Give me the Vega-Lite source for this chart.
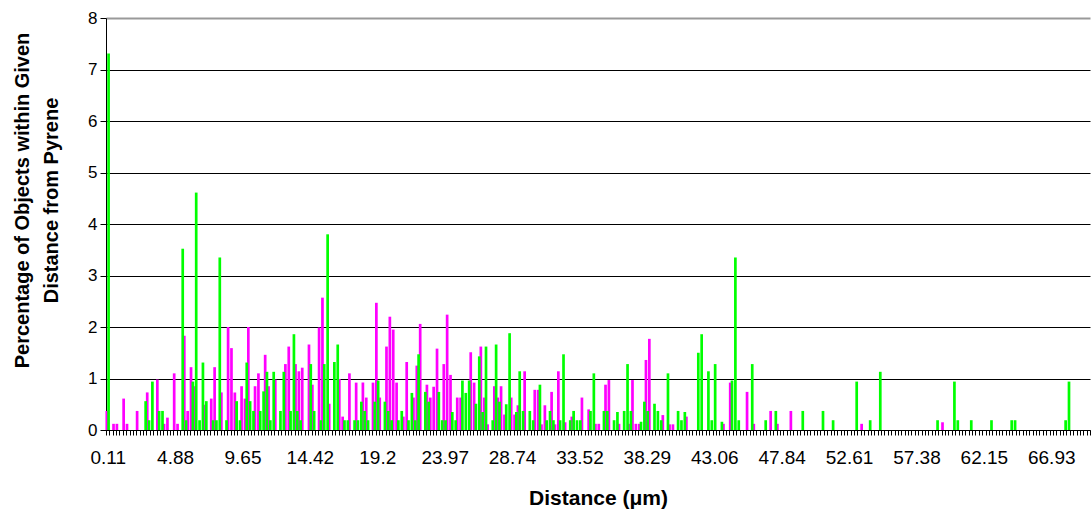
{
  "$schema": "https://vega.github.io/schema/vega-lite/v6.json",
  "width": 984,
  "height": 412,
  "autosize": "none",
  "padding": {"left": 106, "top": 18, "right": 1, "bottom": 88},
  "background": "white",
  "config": {
    "view": {"stroke": null},
    "font": "Liberation Sans"
  },
  "data": {"values": [
    {"dist":0.11,"s1":0.37,"s2":7.31},{"dist":0.34,"s1":0,"s2":0},{"dist":0.58,"s1":0.12,"s2":0},{"dist":0.82,"s1":0.12,"s2":0},{"dist":1.06,"s1":0,"s2":0},
    {"dist":1.3,"s1":0.61,"s2":0},{"dist":1.54,"s1":0.12,"s2":0},{"dist":1.78,"s1":0,"s2":0},{"dist":2.01,"s1":0,"s2":0},{"dist":2.25,"s1":0.37,"s2":0},
    {"dist":2.49,"s1":0,"s2":0},{"dist":2.73,"s1":0,"s2":0.56},{"dist":2.97,"s1":0.73,"s2":0.19},{"dist":3.21,"s1":0,"s2":0.94},{"dist":3.45,"s1":0,"s2":0},
    {"dist":3.69,"s1":0.98,"s2":0.37},{"dist":3.92,"s1":0,"s2":0.37},{"dist":4.16,"s1":0.12,"s2":0},{"dist":4.4,"s1":0.24,"s2":0},{"dist":4.64,"s1":0,"s2":0},
    {"dist":4.88,"s1":1.1,"s2":0},{"dist":5.12,"s1":0.12,"s2":0},{"dist":5.36,"s1":0,"s2":3.52},{"dist":5.59,"s1":1.83,"s2":0.19},{"dist":5.83,"s1":0.37,"s2":0},
    {"dist":6.07,"s1":1.22,"s2":0.94},{"dist":6.31,"s1":0.85,"s2":4.61},{"dist":6.55,"s1":0,"s2":0.19},{"dist":6.79,"s1":0,"s2":1.31},{"dist":7.03,"s1":0.49,"s2":0.56},
    {"dist":7.27,"s1":0,"s2":0},{"dist":7.5,"s1":0.61,"s2":0.19},{"dist":7.74,"s1":1.22,"s2":0.19},{"dist":7.98,"s1":0,"s2":3.35},{"dist":8.22,"s1":0.73,"s2":0},
    {"dist":8.46,"s1":0,"s2":0.19},{"dist":8.7,"s1":2.0,"s2":0},{"dist":8.94,"s1":1.59,"s2":0},{"dist":9.17,"s1":0.73,"s2":0.56},{"dist":9.41,"s1":0,"s2":0.19},
    {"dist":9.65,"s1":0.85,"s2":0},{"dist":9.89,"s1":0.61,"s2":1.31},{"dist":10.13,"s1":2.0,"s2":0.56},{"dist":10.37,"s1":0,"s2":0.37},{"dist":10.61,"s1":0.85,"s2":0},
    {"dist":10.84,"s1":1.1,"s2":0.37},{"dist":11.08,"s1":0,"s2":0.75},{"dist":11.32,"s1":1.46,"s2":1.13},{"dist":11.56,"s1":0.85,"s2":0.19},{"dist":11.8,"s1":0,"s2":1.13},
    {"dist":12.04,"s1":0.98,"s2":0},{"dist":12.28,"s1":0,"s2":0.37},{"dist":12.52,"s1":0,"s2":1.13},{"dist":12.75,"s1":1.28,"s2":0},{"dist":12.99,"s1":1.62,"s2":0.37},
    {"dist":13.23,"s1":0,"s2":1.86},{"dist":13.47,"s1":1.28,"s2":0.37},{"dist":13.71,"s1":1.14,"s2":0.19},{"dist":13.95,"s1":1.21,"s2":0},{"dist":14.19,"s1":0,"s2":0},
    {"dist":14.42,"s1":1.66,"s2":1.28},{"dist":14.66,"s1":0.88,"s2":0.37},{"dist":14.9,"s1":0,"s2":0},{"dist":15.14,"s1":1.99,"s2":0.19},{"dist":15.38,"s1":2.57,"s2":1.28},
    {"dist":15.62,"s1":0,"s2":3.8},{"dist":15.86,"s1":0.51,"s2":0},{"dist":16.1,"s1":0,"s2":1.32},{"dist":16.33,"s1":0,"s2":1.66},{"dist":16.57,"s1":0.99,"s2":0},
    {"dist":16.81,"s1":0.26,"s2":0.19},{"dist":17.05,"s1":0,"s2":0.19},{"dist":17.29,"s1":1.1,"s2":0},{"dist":17.53,"s1":0,"s2":0.19},{"dist":17.77,"s1":0.92,"s2":0.19},
    {"dist":18.0,"s1":0,"s2":0.55},{"dist":18.24,"s1":0.92,"s2":0.37},{"dist":18.48,"s1":0.63,"s2":0.19},{"dist":18.72,"s1":0,"s2":0},{"dist":18.96,"s1":0.92,"s2":0.55},
    {"dist":19.2,"s1":2.47,"s2":0.96},{"dist":19.44,"s1":0.63,"s2":0},{"dist":19.67,"s1":0,"s2":0.55},{"dist":19.91,"s1":1.62,"s2":0.37},{"dist":20.15,"s1":2.2,"s2":0.19},
    {"dist":20.39,"s1":1.95,"s2":0},{"dist":20.63,"s1":0.92,"s2":0.19},{"dist":20.87,"s1":0,"s2":0.37},{"dist":21.11,"s1":0.26,"s2":0},{"dist":21.35,"s1":1.32,"s2":0.19},
    {"dist":21.58,"s1":0,"s2":0.72},{"dist":21.82,"s1":0.63,"s2":0.19},{"dist":22.06,"s1":1.25,"s2":1.47},{"dist":22.3,"s1":2.06,"s2":0},{"dist":22.54,"s1":0,"s2":0.74},
    {"dist":22.78,"s1":0.88,"s2":0.55},{"dist":23.02,"s1":0.63,"s2":0},{"dist":23.25,"s1":0.84,"s2":0},{"dist":23.49,"s1":1.58,"s2":0.74},{"dist":23.73,"s1":0,"s2":0.19},
    {"dist":23.97,"s1":1.28,"s2":0.19},{"dist":24.21,"s1":2.24,"s2":0},{"dist":24.45,"s1":1.07,"s2":0.35},{"dist":24.69,"s1":0,"s2":0.19},{"dist":24.93,"s1":0.63,"s2":0},
    {"dist":25.16,"s1":0.63,"s2":0.96},{"dist":25.4,"s1":0,"s2":0.72},{"dist":25.64,"s1":0,"s2":0.96},{"dist":25.88,"s1":1.51,"s2":0},{"dist":26.12,"s1":0.92,"s2":0.51},
    {"dist":26.36,"s1":0,"s2":1.43},{"dist":26.6,"s1":1.62,"s2":0.35},{"dist":26.83,"s1":0.63,"s2":1.62},{"dist":27.07,"s1":0.11,"s2":0},{"dist":27.31,"s1":0,"s2":0.19},
    {"dist":27.55,"s1":0.85,"s2":1.66},{"dist":27.79,"s1":0.63,"s2":0.55},{"dist":28.03,"s1":0.85,"s2":0},{"dist":28.27,"s1":0.3,"s2":0.5},{"dist":28.5,"s1":0,"s2":1.88},
    {"dist":28.74,"s1":0.63,"s2":0},{"dist":28.98,"s1":0.3,"s2":0.35},{"dist":29.22,"s1":0.48,"s2":1.14},{"dist":29.46,"s1":0,"s2":0.37},{"dist":29.7,"s1":1.14,"s2":0},
    {"dist":29.94,"s1":0,"s2":0.37},{"dist":30.18,"s1":0,"s2":0.19},{"dist":30.41,"s1":0.78,"s2":0},{"dist":30.65,"s1":0.78,"s2":0.88},{"dist":30.89,"s1":0.11,"s2":0},
    {"dist":31.13,"s1":0.48,"s2":0.19},{"dist":31.37,"s1":0,"s2":0.37},{"dist":31.61,"s1":0.74,"s2":0.19},{"dist":31.85,"s1":0.11,"s2":0},{"dist":32.08,"s1":1.14,"s2":0.19},
    {"dist":32.32,"s1":0,"s2":1.47},{"dist":32.56,"s1":0.15,"s2":0},{"dist":32.8,"s1":0,"s2":0.19},{"dist":33.04,"s1":0.26,"s2":0.37},{"dist":33.28,"s1":0,"s2":0.19},
    {"dist":33.52,"s1":0,"s2":0.19},{"dist":33.76,"s1":0.63,"s2":0},{"dist":33.99,"s1":0,"s2":0},{"dist":34.23,"s1":0.4,"s2":0.37},{"dist":34.47,"s1":0,"s2":1.1},
    {"dist":34.71,"s1":0.12,"s2":0},{"dist":34.95,"s1":0.12,"s2":0},{"dist":35.19,"s1":0,"s2":0.37},{"dist":35.43,"s1":0.88,"s2":0.37},{"dist":35.66,"s1":0.97,"s2":0},
    {"dist":35.9,"s1":0,"s2":0.19},{"dist":36.14,"s1":0,"s2":0.35},{"dist":36.38,"s1":0.12,"s2":0},{"dist":36.62,"s1":0,"s2":0.37},{"dist":36.86,"s1":0,"s2":1.28},
    {"dist":37.1,"s1":0.12,"s2":0.37},{"dist":37.33,"s1":0.97,"s2":0},{"dist":37.57,"s1":0.12,"s2":0},{"dist":37.81,"s1":0.12,"s2":0.16},{"dist":38.05,"s1":0,"s2":0.55},
    {"dist":38.29,"s1":1.36,"s2":0.37},{"dist":38.53,"s1":1.77,"s2":0},{"dist":38.77,"s1":0,"s2":0.51},{"dist":39.01,"s1":0,"s2":0.37},{"dist":39.24,"s1":0,"s2":0.19},
    {"dist":39.48,"s1":0.29,"s2":0},{"dist":39.72,"s1":0,"s2":1.1},{"dist":39.96,"s1":0.11,"s2":0},{"dist":40.2,"s1":0.11,"s2":0},{"dist":40.44,"s1":0,"s2":0.37},
    {"dist":40.68,"s1":0,"s2":0.19},{"dist":40.91,"s1":0,"s2":0.35},{"dist":41.15,"s1":0.26,"s2":0},{"dist":41.39,"s1":0,"s2":0},{"dist":41.63,"s1":0,"s2":0},
    {"dist":41.87,"s1":0,"s2":1.5},{"dist":42.11,"s1":0,"s2":1.86},{"dist":42.35,"s1":0,"s2":0},{"dist":42.59,"s1":0,"s2":1.14},{"dist":42.82,"s1":0,"s2":0.19},
    {"dist":43.06,"s1":0,"s2":1.28},{"dist":43.3,"s1":0,"s2":0},{"dist":43.54,"s1":0,"s2":0.16},{"dist":43.78,"s1":0.12,"s2":0},{"dist":44.02,"s1":0,"s2":0},
    {"dist":44.26,"s1":0.92,"s2":0.96},{"dist":44.49,"s1":0,"s2":3.35},{"dist":44.73,"s1":0,"s2":0.19},{"dist":44.97,"s1":0,"s2":0},{"dist":45.21,"s1":0,"s2":0},
    {"dist":45.45,"s1":0.74,"s2":0},{"dist":45.69,"s1":0,"s2":1.28},{"dist":45.93,"s1":0.12,"s2":0},{"dist":46.16,"s1":0,"s2":0},{"dist":46.4,"s1":0,"s2":0},
    {"dist":46.64,"s1":0,"s2":0.19},{"dist":46.88,"s1":0,"s2":0},{"dist":47.12,"s1":0.37,"s2":0},{"dist":47.36,"s1":0,"s2":0.37},{"dist":47.6,"s1":0.12,"s2":0},
    {"dist":47.84,"s1":0,"s2":0},{"dist":48.07,"s1":0,"s2":0},{"dist":48.31,"s1":0,"s2":0},{"dist":48.55,"s1":0.37,"s2":0},{"dist":48.79,"s1":0,"s2":0},
    {"dist":49.03,"s1":0,"s2":0},{"dist":49.27,"s1":0,"s2":0.37},{"dist":49.51,"s1":0,"s2":0},{"dist":49.74,"s1":0,"s2":0},{"dist":49.98,"s1":0,"s2":0},
    {"dist":50.22,"s1":0,"s2":0},{"dist":50.46,"s1":0,"s2":0},{"dist":50.7,"s1":0,"s2":0.37},{"dist":50.94,"s1":0,"s2":0},{"dist":51.18,"s1":0,"s2":0},
    {"dist":51.42,"s1":0,"s2":0.19},{"dist":51.65,"s1":0,"s2":0},{"dist":51.89,"s1":0,"s2":0},{"dist":52.13,"s1":0,"s2":0},{"dist":52.37,"s1":0,"s2":0},
    {"dist":52.61,"s1":0,"s2":0},{"dist":52.85,"s1":0,"s2":0},{"dist":53.09,"s1":0,"s2":0.94},{"dist":53.32,"s1":0,"s2":0},{"dist":53.56,"s1":0.12,"s2":0},
    {"dist":53.8,"s1":0,"s2":0},{"dist":54.04,"s1":0,"s2":0.19},{"dist":54.28,"s1":0,"s2":0},{"dist":54.52,"s1":0,"s2":0},{"dist":54.76,"s1":0,"s2":1.13},
    {"dist":55.0,"s1":0,"s2":0},{"dist":55.23,"s1":0,"s2":0},{"dist":55.47,"s1":0,"s2":0},{"dist":55.71,"s1":0,"s2":0},{"dist":55.95,"s1":0,"s2":0},
    {"dist":56.19,"s1":0,"s2":0},{"dist":56.43,"s1":0,"s2":0},{"dist":56.67,"s1":0,"s2":0},{"dist":56.9,"s1":0,"s2":0},{"dist":57.14,"s1":0,"s2":0},
    {"dist":57.38,"s1":0,"s2":0},{"dist":57.62,"s1":0,"s2":0},{"dist":57.86,"s1":0,"s2":0},{"dist":58.1,"s1":0,"s2":0},{"dist":58.34,"s1":0,"s2":0},
    {"dist":58.57,"s1":0,"s2":0},{"dist":58.81,"s1":0,"s2":0.19},{"dist":59.05,"s1":0,"s2":0},{"dist":59.29,"s1":0.15,"s2":0},{"dist":59.53,"s1":0,"s2":0},
    {"dist":59.77,"s1":0,"s2":0},{"dist":60.01,"s1":0,"s2":0.94},{"dist":60.25,"s1":0,"s2":0.19},{"dist":60.48,"s1":0,"s2":0},{"dist":60.72,"s1":0,"s2":0},
    {"dist":60.96,"s1":0,"s2":0},{"dist":61.2,"s1":0,"s2":0.19},{"dist":61.44,"s1":0,"s2":0},{"dist":61.68,"s1":0,"s2":0},{"dist":61.92,"s1":0,"s2":0},
    {"dist":62.15,"s1":0,"s2":0},{"dist":62.39,"s1":0,"s2":0},{"dist":62.63,"s1":0,"s2":0.19},{"dist":62.87,"s1":0,"s2":0},{"dist":63.11,"s1":0,"s2":0},
    {"dist":63.35,"s1":0,"s2":0},{"dist":63.59,"s1":0,"s2":0},{"dist":63.83,"s1":0,"s2":0},{"dist":64.06,"s1":0,"s2":0.19},{"dist":64.3,"s1":0,"s2":0.19},
    {"dist":64.54,"s1":0,"s2":0},{"dist":64.78,"s1":0,"s2":0},{"dist":65.02,"s1":0,"s2":0},{"dist":65.26,"s1":0,"s2":0},{"dist":65.5,"s1":0,"s2":0},
    {"dist":65.73,"s1":0,"s2":0},{"dist":65.97,"s1":0,"s2":0},{"dist":66.21,"s1":0,"s2":0},{"dist":66.45,"s1":0,"s2":0},{"dist":66.69,"s1":0,"s2":0},
    {"dist":66.93,"s1":0,"s2":0},{"dist":67.17,"s1":0,"s2":0},{"dist":67.4,"s1":0,"s2":0},{"dist":67.64,"s1":0,"s2":0},{"dist":67.88,"s1":0,"s2":0.19},
    {"dist":68.12,"s1":0,"s2":0.94},{"dist":68.36,"s1":0,"s2":0},{"dist":68.6,"s1":0,"s2":0},{"dist":68.84,"s1":0,"s2":0},{"dist":69.08,"s1":0,"s2":0},
    {"dist":69.31,"s1":0,"s2":0},{"dist":69.55,"s1":0,"s2":0}
  ]},
  "encoding": {
    "x": {
      "field": "dist",
      "type": "ordinal",
      "sort": "ascending",
      "scale": {"paddingInner": 0, "paddingOuter": 0},
      "axis": {
        "title": "Distance (μm)",
        "titleFont": "Liberation Sans",
        "titleFontSize": 21,
        "titleFontWeight": "bold",
        "titleColor": "#000000",
        "titlePadding": 20,
        "labelFont": "Liberation Sans",
        "labelFontSize": 19,
        "labelColor": "#000000",
        "labelAngle": 0,
        "labelPadding": 13,
        "labelOverlap": false,
        "labelFlush": false,
        "labelExpr": "indexof([0.11,4.88,9.65,14.42,19.2,23.97,28.74,33.52,38.29,43.06,47.84,52.61,57.38,62.15,66.93], datum.value) >= 0 ? datum.label : ''",
        "tickBand": "extent",
        "tickSize": 5,
        "tickColor": "#000000",
        "domainColor": "#000000",
        "grid": false
      }
    }
  },
  "layer": [
    {
      "mark": {"type": "bar", "color": "#FF00FF", "width": 2.7, "xOffset": -0.9},
      "encoding": {
        "y": {
          "field": "s1",
          "type": "quantitative",
          "scale": {"domain": [0, 8]},
          "axis": {
            "title": ["Percentage of Objects within Given", "Distance from Pyrene"],
            "titleFont": "Liberation Sans",
            "titleFontSize": 20,
            "titleFontWeight": "bold",
            "titleColor": "#000000",
            "titleLineHeight": 29,
            "titlePadding": 26,
            "titleY": 182,
            "labelFont": "Liberation Sans",
            "labelFontSize": 17,
            "labelColor": "#000000",
            "labelPadding": 3,
            "values": [0, 1, 2, 3, 4, 5, 6, 7, 8],
            "tickSize": 6,
            "tickColor": "#000000",
            "domainColor": "#000000",
            "grid": true,
            "gridColor": {"condition": {"test": "datum.value == 8", "value": "#999999"}, "value": "#000000"},
            "gridWidth": {"condition": {"test": "datum.value == 8", "value": 2}, "value": 1}
          }
        }
      }
    },
    {
      "mark": {"type": "bar", "color": "#00FF00", "width": 2.7, "xOffset": 0.9},
      "encoding": {
        "y": {"field": "s2", "type": "quantitative"}
      }
    }
  ]
}
